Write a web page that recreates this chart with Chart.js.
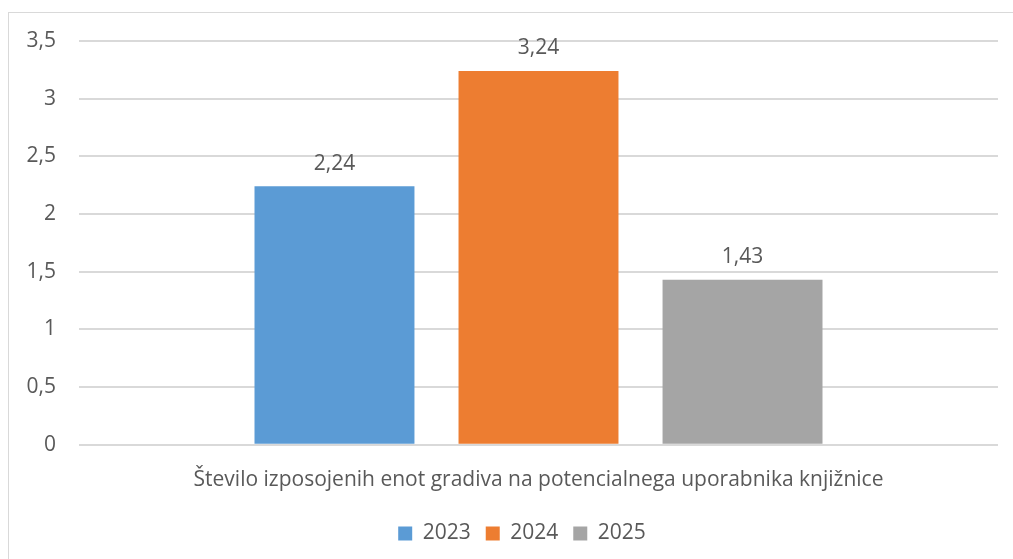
<!DOCTYPE html>
<html>
<head>
<meta charset="utf-8">
<script src="https://cdn.jsdelivr.net/npm/chart.js@4"></script>
<style>
  html, body { margin: 0; padding: 0; background: #fff; overflow: hidden; }
  #wrap { position: relative; width: 1013px; height: 559px; }
  #frame {
    position: absolute; left: 8px; top: 12px; width: 1020px; height: 560px;
    border: 1px solid #d9d9d9; pointer-events: none;
  }
</style>
</head>
<body>
<div id="wrap">
  <canvas id="myChart" width="1013" height="559"></canvas>
  <div id="frame"></div>
</div>
<script>
// podatki
var categories = ['Število izposojenih enot gradiva na potencialnega uporabnika knjižnice'];
var years = ['2023', '2024', '2025'];
var values2023 = [2.24];
var values2024 = [3.24];
var values2025 = [1.43];
var colors = ['#5b9bd5', '#ed7d31', '#a5a5a5'];
var yTicks = [0, 0.5, 1, 1.5, 2, 2.5, 3, 3.5];

var fontFamily = '"Open Sans", "Noto Sans", sans-serif';
var textColor = '#595959';

function fmt(v) {
    return String(v).replace('.', ',');
}

// vrednosti nad stolpci
var valueLabels = {
    id: 'valueLabels',
    afterDatasetsDraw: function (chart) {
        var ctx = chart.ctx;
        ctx.save();
        ctx.font = '21px ' + fontFamily;
        ctx.fillStyle = textColor;
        ctx.textAlign = 'center';
        ctx.textBaseline = 'bottom';
        chart.data.datasets.forEach(function (ds, i) {
            chart.getDatasetMeta(i).data.forEach(function (bar, j) {
                ctx.fillText(fmt(ds.data[j]), bar.x, bar.y - 12);
            });
        });
        ctx.restore();
    }
};

// legenda je nekoliko zamaknjena v desno
var legendShift = {
    id: 'legendShift',
    afterLayout: function (chart) {
        chart.legend.left += 23;
        chart.legend.right += 23;
    }
};

var chartData = {
    labels: categories,
    datasets: [
        { label: years[0], data: values2023, backgroundColor: colors[0] },
        { label: years[1], data: values2024, backgroundColor: colors[1] },
        { label: years[2], data: values2025, backgroundColor: colors[2] }
    ]
};

var ctx = document.getElementById('myChart').getContext('2d');

var myChart = new Chart(ctx, {
    type: 'bar',
    data: chartData,
    plugins: [valueLabels, legendShift],
    options: {
        responsive: false,
        animation: false,
        categoryPercentage: 0.666,
        barPercentage: 0.784,
        layout: { padding: { left: 0, right: 15, top: 41, bottom: 5 } },
        plugins: {
            tooltip: { enabled: false },
            legend: {
                position: 'bottom',
                labels: {
                    boxWidth: 14,
                    boxHeight: 14,
                    padding: 15,
                    color: textColor,
                    font: { family: fontFamily, size: 21 }
                }
            }
        },
        scales: {
            x: {
                grid: { display: false },
                border: { display: false },
                ticks: {
                    color: textColor,
                    padding: 15,
                    font: { family: fontFamily, size: 21 }
                }
            },
            y: {
                min: 0,
                max: 3.5,
                afterFit: function (scale) { scale.width = 79; },
                afterBuildTicks: function (scale) {
                    scale.ticks = yTicks.map(function (v) { return { value: v }; });
                },
                grid: { color: '#d9d9d9', lineWidth: 2, drawTicks: false },
                border: { display: false },
                ticks: {
                    color: textColor,
                    padding: 23,
                    font: { family: fontFamily, size: 21 },
                    callback: function (v) { return fmt(v); }
                }
            }
        }
    }
});
</script>
</body>
</html>
